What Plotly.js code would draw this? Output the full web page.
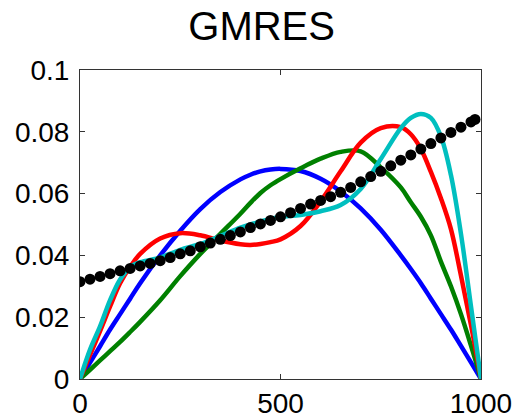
<!DOCTYPE html>
<html>
<head>
<meta charset="utf-8">
<script src="https://cdn.plot.ly/plotly-3.0.1.min.js"></script>
<style>
  html, body { margin: 0; padding: 0; background: #fff; }
  #chart { width: 512px; height: 415px; }
</style>
</head>
<body>
<div id="chart"></div>
<script>
// ---- data ----
const xGrid = [0, 25, 50, 75, 100, 125, 150, 200, 250, 300, 350, 400, 425, 450, 475, 500, 550, 600, 650, 700, 750, 800, 825, 850, 875, 900, 925, 950, 975, 1000];

const blueY  = [0, 0.0053, 0.0106, 0.0160, 0.0210, 0.0260, 0.0310, 0.0400, 0.0480, 0.0550, 0.0605, 0.0646, 0.0661, 0.0672, 0.0678, 0.0680, 0.0673, 0.0648, 0.0607, 0.0552, 0.0483, 0.0400, 0.0356, 0.0310, 0.0260, 0.0210, 0.0160, 0.0107, 0.0054, 0];
const greenY = [0, 0.0030, 0.0060, 0.0090, 0.0120, 0.0152, 0.0185, 0.0255, 0.0333, 0.0405, 0.0470, 0.0535, 0.0570, 0.0602, 0.0627, 0.0647, 0.0682, 0.0713, 0.0735, 0.0737, 0.0685, 0.0620, 0.0572, 0.0525, 0.0465, 0.0380, 0.0300, 0.0210, 0.0108, 0];
const redY   = [0, 0.0078, 0.0155, 0.0235, 0.0310, 0.0363, 0.0405, 0.0455, 0.0472, 0.0465, 0.0448, 0.0436, 0.0434, 0.0437, 0.0443, 0.0452, 0.0495, 0.0575, 0.0672, 0.0765, 0.0812, 0.0815, 0.0792, 0.0745, 0.0670, 0.0585, 0.0485, 0.0335, 0.0175, 0];
const cyanY  = [0, 0.0095, 0.0170, 0.0255, 0.0322, 0.0362, 0.0378, 0.0393, 0.0418, 0.0437, 0.0463, 0.0490, 0.0500, 0.0510, 0.0518, 0.0524, 0.0531, 0.0543, 0.0563, 0.0615, 0.0712, 0.0812, 0.0845, 0.0858, 0.0845, 0.0785, 0.0660, 0.0470, 0.0235, 0];

const dotX = [0, 25, 50, 75, 100, 125, 150, 175, 200, 225, 250, 275, 300, 325, 350, 375, 400, 425, 450, 475, 500, 525, 550, 575, 600, 625, 650, 675, 700, 725, 750, 775, 800, 825, 850, 875, 900, 925, 950, 975, 985];
const dotY = [0.0315, 0.0323, 0.0332, 0.0341, 0.0350, 0.0358, 0.0366, 0.0374, 0.0383, 0.0393, 0.0405, 0.0415, 0.0428, 0.0440, 0.0452, 0.0464, 0.0476, 0.0490, 0.0502, 0.0513, 0.0525, 0.0538, 0.0552, 0.0566, 0.0578, 0.0590, 0.0604, 0.0620, 0.0638, 0.0655, 0.0672, 0.0690, 0.0708, 0.0725, 0.0744, 0.0762, 0.0780, 0.0798, 0.0815, 0.0832, 0.0840];

const xTickVals = [0, 500, 1000];
const xTickText = ['0', '500', '1000'];
const yTickVals = [0, 0.02, 0.04, 0.06, 0.08, 0.1];
const yTickText = ['0', '0.02', '0.04', '0.06', '0.08', '0.1'];
const titleText = 'GMRES';

// ---- traces ----
function curve(y, color) {
  return {
    x: xGrid, y: y, type: 'scatter', mode: 'lines',
    line: { color: color, width: 4.5, shape: 'spline', smoothing: 1 },
    hoverinfo: 'skip', showlegend: false
  };
}
const traces = [
  curve(blueY, '#0000ff'),
  curve(greenY, '#008000'),
  curve(redY, '#ff0000'),
  curve(cyanY, '#00bfbf'),
  {
    x: dotX, y: dotY, type: 'scatter', mode: 'markers',
    marker: { color: '#000000', size: 11, line: { width: 0 } },
    hoverinfo: 'skip', showlegend: false
  }
];

const fontFam = '"Liberation Sans", Arial, Helvetica, sans-serif';
const axisCommon = {
  showgrid: false, zeroline: false,
  showline: true, linecolor: '#333333', linewidth: 1,
  mirror: 'ticks', ticks: 'inside', ticklen: 5, tickwidth: 1, tickcolor: '#333333',
  tickfont: { family: fontFam, size: 28, color: '#000000' },
  tickmode: 'array', fixedrange: true, ticklabeloverflow: 'allow'
};

const layout = {
  width: 512, height: 415,
  margin: { l: 80, r: 31, t: 70, b: 36, pad: 0 },
  paper_bgcolor: '#ffffff', plot_bgcolor: '#ffffff',
  title: {
    text: titleText,
    font: { family: fontFam, size: 40, color: '#000000' },
    xref: 'container', yref: 'container',
    x: 0.511, y: 1 - 26 / 415, xanchor: 'center', yanchor: 'middle'
  },
  xaxis: Object.assign({}, axisCommon, {
    range: [0, 1000], tickvals: xTickVals, ticktext: xTickText,
    ticklabelstandoff: -1
  }),
  yaxis: Object.assign({}, axisCommon, {
    range: [0, 0.1], tickvals: yTickVals, ticktext: yTickText,
    ticklabelstandoff: 4
  }),
  showlegend: false
};

Plotly.newPlot('chart', traces, layout, { displayModeBar: false, staticPlot: true });
</script>
</body>
</html>
